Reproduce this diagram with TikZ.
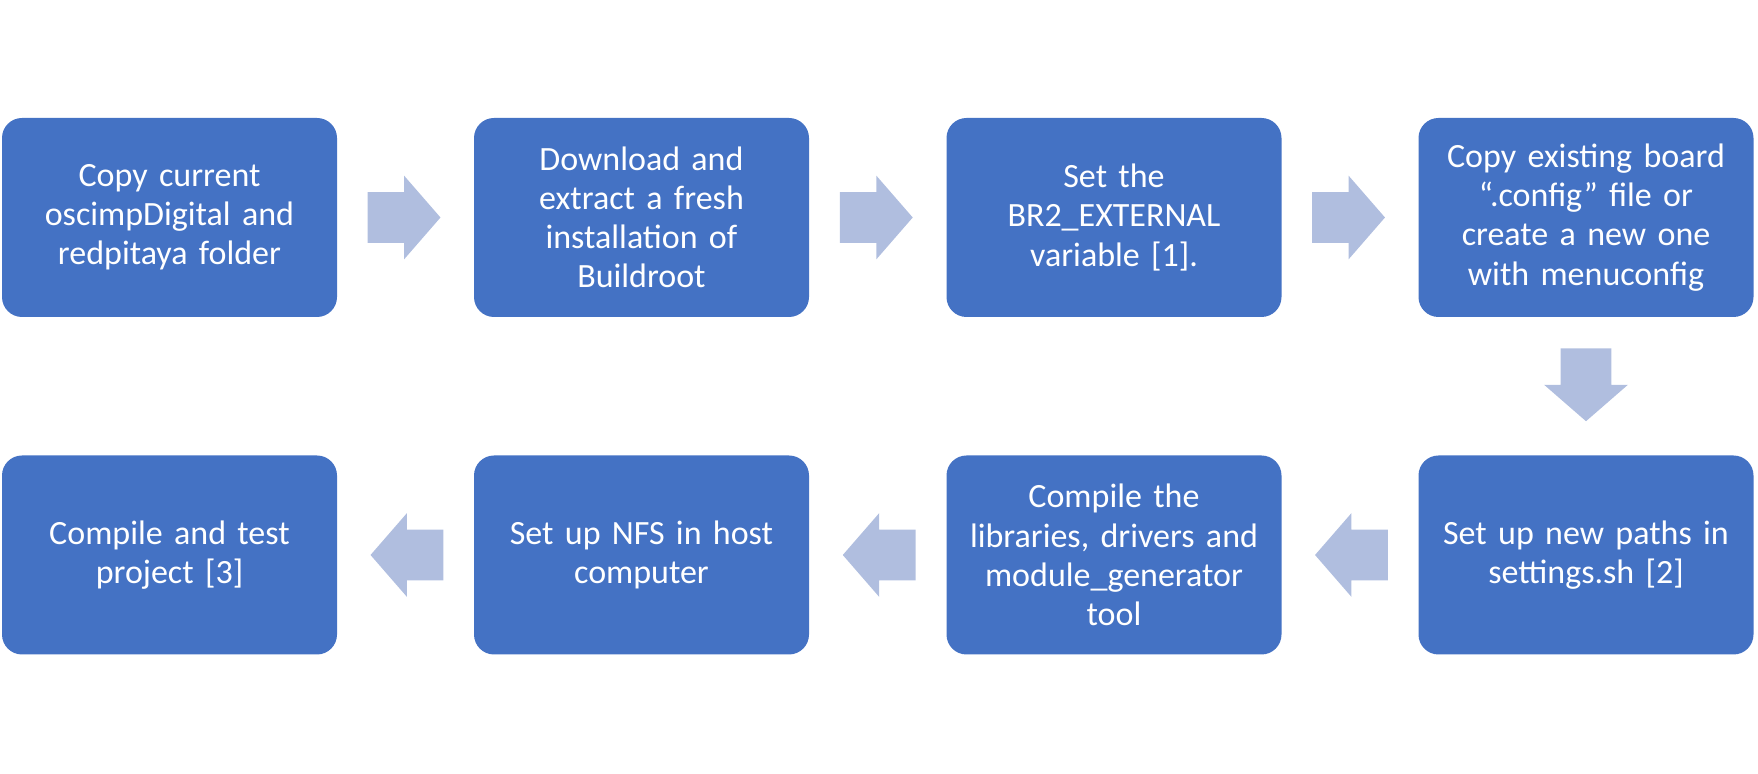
\documentclass[tikz,border=0pt]{standalone}
\usepackage{fontspec}
\setmainfont{Carlito}
\usetikzlibrary{calc,shapes.arrows}

\definecolor{stepblue}{HTML}{4472C4}
\definecolor{arrowblue}{HTML}{B0BEDF}

\begin{document}
\begin{tikzpicture}[x=0.5pt,y=-0.5pt,
    stepbox/.style={fill=stepblue, rounded corners=10pt, text=white,
      minimum width=167.5pt, minimum height=99.5pt, text width=159pt,
      inner xsep=4.25pt, inner ysep=0pt, align=center,
      font=\fontsize{17}{19.6}\selectfont},
    flowarrow/.style={single arrow, fill=arrowblue, inner sep=12.5pt,
      minimum height=35.5pt, minimum width=41.5pt,
      single arrow head extend=8.25pt, single arrow tip angle=98,
      single arrow head indent=0pt, anchor=tip}]
    % Page frame
    \useasboundingbox (0,0) rectangle (1758,774);

    % Top row
    \node[stepbox] (copyfolders) at (169.5,217.5) {Copy current\\oscimpDigital and\\redpitaya folder};
    \node[stepbox] (buildroot) at (641.5,217.5) {Download and\\extract a fresh\\installation of\\Buildroot};
    \node[stepbox] (brexternal) at (1114,217.5) {Set the\\BR2\_EXTERNAL\\variable [1].};
    \node[stepbox] (boardconfig) at (1586,217.5) {Copy existing board\\“.config” file or\\create a new one\\with menuconfig};

    % Bottom row
    \node[stepbox] (settings) at (1586,555) {Set up new paths in\\settings.sh [2]};
    \node[stepbox] (libs) at (1114,555) {Compile the\\libraries, drivers and\\module\_generator\\tool};
    \node[stepbox] (nfs) at (641.5,555) {Set up NFS in host\\computer};
    \node[stepbox] (testproj) at (169.5,555) {Compile and test\\project [3]};

    % Block arrows between steps (tip half a length past the gap centre)
    \foreach \a/\b/\r in {copyfolders/buildroot/0, buildroot/brexternal/0,
      brexternal/boardconfig/0, boardconfig/settings/270, settings/libs/180,
      libs/nfs/180, nfs/testproj/180} {
      \node[flowarrow, shape border rotate=\r] (arr-\a)
        at ($($(\a)!0.5!(\b)$)!17.75pt!(\b)$) {};
    }
\end{tikzpicture}
\end{document}
